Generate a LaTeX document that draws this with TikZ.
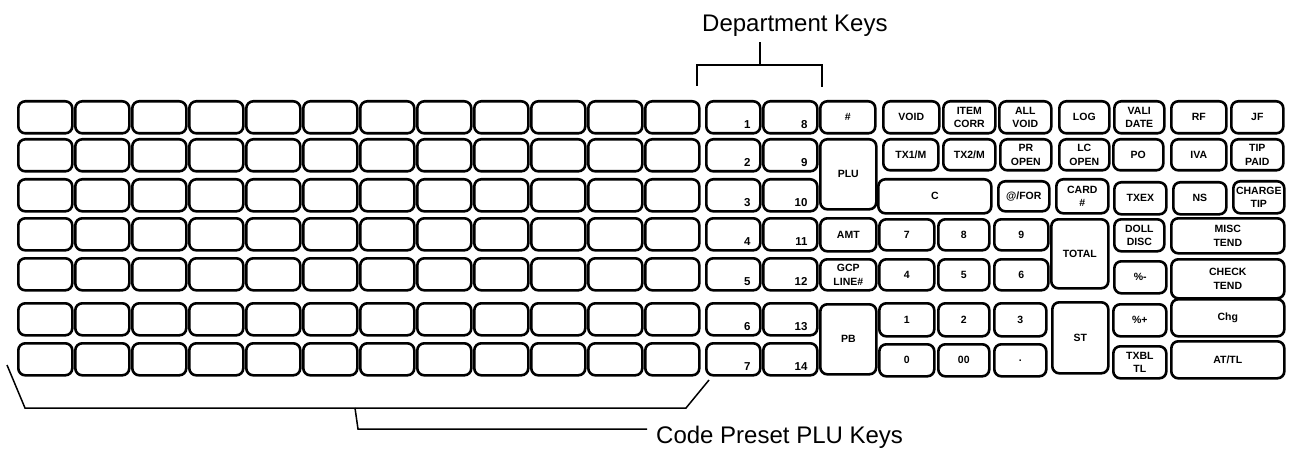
\documentclass[tikz,border=0pt]{standalone}
\usepackage{fontspec}
\setsansfont{Liberation Sans}
\usetikzlibrary{calc}
\tikzset{
  key/.style={draw, line width=2.6pt, rounded corners=7pt, anchor=north west, inner sep=0pt, align=center,
    font=\sffamily\bfseries\fontsize{10.5}{13.5}\selectfont},
  deptnum/.style={anchor=base east, inner sep=0pt, font=\sffamily\bfseries\fontsize{11.5}{13}\selectfont},
  lead/.style={line width=1.5pt},
  caption/.style={inner sep=0pt, anchor=base west, font=\sffamily\fontsize{24}{28}\selectfont}
}
\begin{document}
\begin{tikzpicture}[x=1pt,y=-1pt]
  \useasboundingbox[fill=white] (0,0) rectangle (1292,449);
  % code preset PLU keys
  \foreach \c in {0,...,11}
    \foreach \r/\y in {1/100,2/138,3/178,4/217,5/257,6/302,7/342}
      \node[key, minimum width=54pt, minimum height=32pt] (plu\c-\r) at ({17+57*\c},\y) {};
  % department keys
  \foreach \r/\s/\y in {1/8/100,2/9/138,3/10/178,4/11/217,5/12/257,6/13/302,7/14/342} {
    \node[key, minimum width=54pt, minimum height=32pt] (dept\r) at (705,\y) {};
    \node[deptnum] (dept\r-n) at ($(dept\r.south east)+(-11,-6)$) {\r};
    \node[key, minimum width=54pt, minimum height=32pt] (dept\s) at (762,\y) {};
    \node[deptnum] (dept\s-n) at ($(dept\s.south east)+(-11,-6)$) {\s};
  }
  \node[key, minimum width=55pt, minimum height=32pt] (hash) at (819,100) {\#};
  \node[key, minimum width=56pt, minimum height=70pt] (plu) at (819,138) {PLU};
  \node[key, minimum width=56pt, minimum height=33pt] (amt) at (819,217) {AMT};
  \node[key, minimum width=56pt, minimum height=31pt] (gcp) at (819,258) {GCP\\LINE\#};
  \node[key, minimum width=56pt, minimum height=70pt] (pb) at (819,303) {PB};
  % function keys
  \foreach \nm/\x/\y/\w/\h/\t in {
      void/882/100/56/32/VOID, icorr/942/100/52/32/{ITEM\\CORR}, allvoid/998/100/52/32/{ALL\\VOID},
      log/1058/100/50/32/LOG, vali/1113/100/50/32/{VALI\\DATE}, rf/1170/100/55/32/RF, jf/1230/100/52/32/JF,
      txa/882/138/55/31/{TX1/M}, txb/942/138/52/31/{TX2/M}, pr/999/138/51/31/{PR\\OPEN},
      lc/1058/138/50/31/{LC\\OPEN}, po/1112/138/50/31/PO, iva/1170/138/55/31/IVA, tip/1230/138/52/31/{TIP\\PAID},
      clr/877/178/113/34/C, for/997/180/51/30/{@/FOR}, card/1055/178/52/34/{CARD\\\#},
      txex/1113/181/52/32/TXEX, ns/1172/181/53/32/NS, chtip/1232/180/51/32/{CHARGE\\TIP},
      n7/878/218/55/31/7, n8/937/218/51/31/8, n9/993/218/54/31/9,
      total/1050/218/57/69/TOTAL, doll/1113/218/50/32/{DOLL\\DISC}, misc/1170/217/113/35/{MISC\\TEND},
      n4/878/258/55/31/4, n5/937/258/51/31/5, n6/993/258/54/31/6,
      minus/1113/260/52/32/{\%-}, check/1170/258/113/39/{CHECK\\TEND},
      n1/878/302/55/33/1, n2/937/302/51/33/2, n3/993/302/52/33/3,
      st/1051/301/56/71/ST, plus/1112/303/53/32/{\%+}, chg/1170/298/113/37/Chg,
      n0/878/343/55/32/0, n00/937/343/51/32/00, dot/993/343/52/32/.,
      txbl/1112/345/53/32/{TXBL\\TL}, attl/1170/340/113/37/{AT/TL}}
    \node[key, minimum width=\w pt, minimum height=\h pt] (\nm) at (\x,\y) {\t};
  % brackets
  \coordinate (tl) at (697,86);
  \coordinate (tlc) at (697,65);
  \coordinate (trc) at (822,65);
  \coordinate (tr) at (822,87);
  \coordinate (tm) at (760,65);
  \coordinate (tt) at (760,42);
  \draw[lead] (tl) -- (tlc) -- (trc) -- (tr);
  \draw[lead] (tm) -- (tt);
  \node[caption] (deptcap) at (702,32) {Department Keys};
  \coordinate (bl) at (7,365);
  \coordinate (blc) at (25,408);
  \coordinate (brc) at (686,408);
  \coordinate (br) at (709,380);
  \coordinate (bj) at (355,408);
  \coordinate (bjd) at (358,429);
  \coordinate (be) at (647,429);
  \draw[lead] (bl) -- (blc) -- (brc) -- (br);
  \draw[lead] (bj) -- (bjd) -- (be);
  \node[caption] (plucap) at (656,443) {Code Preset PLU Keys};
\end{tikzpicture}
\end{document}
